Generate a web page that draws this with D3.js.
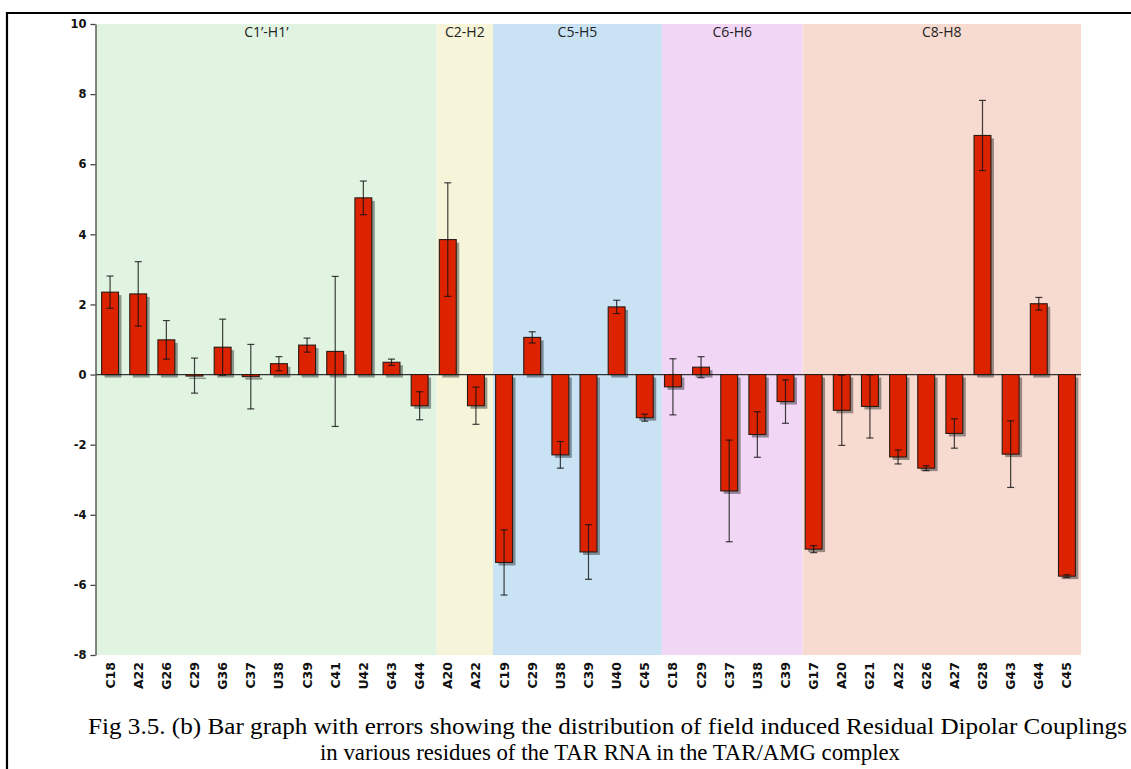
<!DOCTYPE html>
<html>
<head>
<meta charset="utf-8">
<script src="https://cdn.jsdelivr.net/npm/d3@7"></script>
<style>
  html, body { margin: 0; padding: 0; background: #fff; }
  svg { display: block; }
</style>
</head>
<body>
<svg id="chart" width="1131" height="769"></svg>
<script>
// Residues measured, in plot order
const residues = [
  "C18","A22","G26","C29","G36","C37","U38","C39","C41","U42","G43","G44",
  "A20","A22",
  "C19","C29","U38","C39","U40","C45",
  "C18","C29","C37","U38","C39",
  "G17","A20","G21","A22","G26","A27","G28","G43","G44","C45"
];
// Bond vector each residue belongs to (index into vectorNames)
const vectorOf = [
  0,0,0,0,0,0,0,0,0,0,0,0,
  1,1,
  2,2,2,2,2,2,
  3,3,3,3,3,
  4,4,4,4,4,4,4,4,4,4
];
const vectorNames = ["C1\u2019-H1\u2019", "C2-H2", "C5-H5", "C6-H6", "C8-H8"];
const vectorColors = ["#e1f4e2", "#f6f5d9", "#c9e3f5", "#f1d7f5", "#f7dad0"];

// Residual dipolar couplings (Hz) and their errors
const rdc = [
  2.35, 2.30, 0.99, -0.03, 0.78, -0.06, 0.31, 0.84, 0.66, 5.04, 0.35, -0.89,
  3.85, -0.89,
  -5.36, 1.06, -2.29, -5.06, 1.93, -1.23,
  -0.35, 0.21, -3.32, -1.71, -0.77,
  -4.98, -1.02, -0.91, -2.35, -2.67, -1.68, 6.82, -2.27, 2.02, -5.75
];
const rdcError = [
  0.46, 0.92, 0.55, 0.50, 0.80, 0.92, 0.20, 0.20, 2.14, 0.48, 0.09, 0.40,
  1.62, 0.53,
  0.93, 0.16, 0.38, 0.78, 0.19, 0.10,
  0.80, 0.30, 1.45, 0.65, 0.62,
  0.10, 1.00, 0.90, 0.20, 0.07, 0.42, 1.00, 0.95, 0.18, 0.04
];
const yTicks = [-8, -6, -4, -2, 0, 2, 4, 6, 8, 10];

const captionLines = [
  "Fig 3.5. (b) Bar graph with errors showing the distribution of field induced Residual Dipolar Couplings",
  "in various residues of the TAR RNA in the TAR/AMG complex"
];
const captionWidths = [1039, 580];

const svg = d3.select("#chart");
const plot = { left: 96, right: 1081, top: 24, bottom: 655 };

const idx = d3.range(residues.length);
const x = d3.scaleBand()
  .domain(idx)
  .range([plot.left, plot.right])
  .paddingInner(0.4)
  .paddingOuter(0.2);
const y = d3.scaleLinear().domain([-8, 10]).range([plot.bottom, plot.top]);
const step = x.step();

// Coloured background per bond vector
const groups = vectorNames.map((name, g) => {
  const members = idx.filter(i => vectorOf[i] === g);
  const first = members[0], last = members[members.length - 1];
  const x0 = plot.left + first * step + (first === 0 ? 0 : 3);
  const x1 = plot.left + (last + 1) * step + (last === residues.length - 1 ? 0 : 3);
  return { name, color: vectorColors[g], x0, x1 };
});

svg.append("g").selectAll("rect")
  .data(groups)
  .join("rect")
  .attr("x", d => d.x0)
  .attr("y", plot.top)
  .attr("width", d => d.x1 - d.x0)
  .attr("height", plot.bottom - plot.top)
  .attr("fill", d => d.color);

svg.append("g").selectAll("text")
  .data(groups)
  .join("text")
  .attr("x", d => (d.x0 + d.x1) / 2)
  .attr("y", 37)
  .attr("text-anchor", "middle")
  .attr("font-family", "'Open Sans', sans-serif")
  .attr("font-size", 14)
  .attr("fill", "#222")
  .text(d => d.name);

// Zero line
svg.append("line")
  .attr("x1", plot.left).attr("x2", plot.right)
  .attr("y1", y(0)).attr("y2", y(0))
  .attr("stroke", "#333").attr("stroke-width", 1.2);

// Bars with drop shadow
const bars = svg.append("g");
bars.selectAll("rect.shadow")
  .data(idx)
  .join("rect")
  .attr("class", "shadow")
  .attr("x", i => x(i) + 3)
  .attr("y", i => Math.min(y(rdc[i]), y(0)) + 3)
  .attr("width", x.bandwidth())
  .attr("height", i => Math.max(Math.abs(y(rdc[i]) - y(0)), 1.5))
  .attr("fill", "#000")
  .attr("opacity", 0.38);

bars.selectAll("rect.bar")
  .data(idx)
  .join("rect")
  .attr("class", "bar")
  .attr("x", i => x(i))
  .attr("y", i => Math.min(y(rdc[i]), y(0)))
  .attr("width", x.bandwidth())
  .attr("height", i => Math.max(Math.abs(y(rdc[i]) - y(0)), 1.5))
  .attr("fill", "#dd2200")
  .attr("stroke", "#2a1a14")
  .attr("stroke-width", 1.1);

// Error bars
const err = svg.append("g")
  .attr("stroke", "#111")
  .attr("stroke-opacity", 0.8)
  .attr("stroke-width", 1.2);
idx.forEach(i => {
  const cx = x(i) + x.bandwidth() / 2;
  const hi = y(rdc[i] + rdcError[i]);
  const lo = y(rdc[i] - rdcError[i]);
  err.append("line").attr("x1", cx).attr("x2", cx).attr("y1", hi).attr("y2", lo);
  err.append("line").attr("x1", cx - 3.5).attr("x2", cx + 3.5).attr("y1", hi).attr("y2", hi);
  err.append("line").attr("x1", cx - 3.5).attr("x2", cx + 3.5).attr("y1", lo).attr("y2", lo);
});

// Y axis
const yAxis = svg.append("g")
  .attr("transform", `translate(${plot.left - 0.5},0)`)
  .call(d3.axisLeft(y).tickValues(yTicks).tickFormat(d => String(d))
    .tickSize(5).tickPadding(4).tickSizeOuter(0));
yAxis.select(".domain").attr("stroke", "#444").attr("stroke-width", 1.3);
yAxis.selectAll(".tick line").attr("stroke", "#444").attr("stroke-width", 1.3);
yAxis.selectAll(".tick text")
  .attr("font-family", "'DejaVu Sans', sans-serif")
  .attr("font-weight", "bold")
  .attr("font-size", 11.5)
  .attr("fill", "#111");

// X axis labels, rotated
const xAxis = svg.append("g")
  .attr("transform", `translate(0,${plot.bottom})`)
  .call(d3.axisBottom(x).tickFormat(i => residues[i]).tickSize(0).tickPadding(0));
xAxis.select(".domain").remove();
xAxis.selectAll(".tick text")
  .attr("font-family", "'DejaVu Sans', sans-serif")
  .attr("font-weight", "bold")
  .attr("font-size", 12.5)
  .attr("fill", "#111")
  .attr("text-anchor", "end")
  .attr("dy", null)
  .attr("y", 0)
  .attr("transform", "translate(4.5,7) rotate(-90)");

// Frame
svg.append("path")
  .attr("d", "M7,769 V13 H1131")
  .attr("fill", "none")
  .attr("stroke", "#000")
  .attr("stroke-width", 2.2);

// Caption
svg.append("g").selectAll("text")
  .data(captionLines)
  .join("text")
  .attr("x", (d, i) => i === 0 ? 607.5 : 610)
  .attr("y", (d, i) => 734 + i * 26)
  .attr("text-anchor", "middle")
  .attr("font-family", "'Liberation Serif', 'Times New Roman', serif")
  .attr("font-size", 24)
  .attr("textLength", (d, i) => captionWidths[i])
  .attr("lengthAdjust", "spacingAndGlyphs")
  .attr("fill", "#000")
  .text(d => d);
</script>
</body>
</html>
